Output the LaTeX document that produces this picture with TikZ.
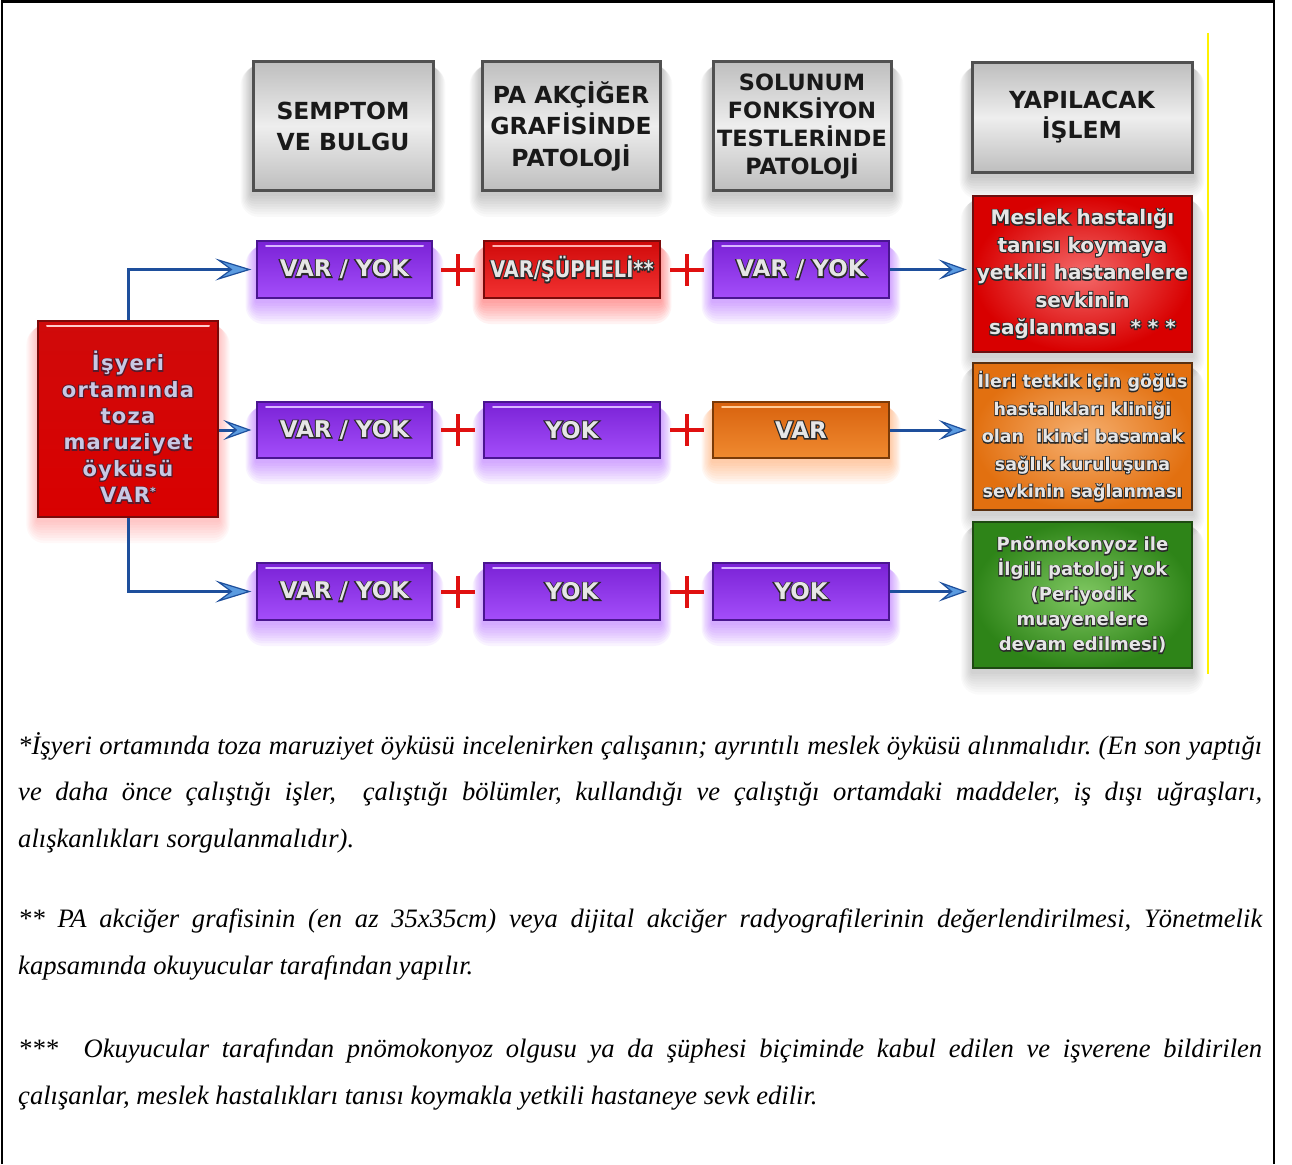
\documentclass[tikz,border=0pt]{standalone}
\usepackage{fontspec}
\usepackage{graphicx}
\usetikzlibrary{arrows.meta,calc}
\setmainfont{Liberation Serif}
\newfontfamily\bfnt{DejaVu Sans Bold}
\newfontfamily\obfnt{DejaVu Sans Bold}[FakeBold=10]
\newfontfamily\lfnt{DejaVu Sans Bold}[LetterSpace=6]
\newfontfamily\olfnt{DejaVu Sans Bold}[LetterSpace=6,FakeBold=10]
\newcommand\fs[2]{\fontsize{#1}{#2}\selectfont}
\definecolor{olc}{HTML}{2A2A2A}
\definecolor{olr}{HTML}{5A1A2A}
\newcommand\ol[1]{\rlap{\color{olc}\obfnt #1}#1}
\newcommand\oll[1]{\rlap{\color{olr}\olfnt #1}#1}
\definecolor{hdA}{HTML}{BEBEBE}
\definecolor{hdB}{HTML}{EEEEEE}
\definecolor{hdBorder}{HTML}{505050}
\definecolor{pA}{HTML}{7A22D6}
\definecolor{pB}{HTML}{A44EFA}
\definecolor{pBorder}{HTML}{4A1690}
\definecolor{pHi}{HTML}{D8B8FF}
\definecolor{pGlow}{HTML}{A040FF}
\definecolor{rA}{HTML}{D00A0A}
\definecolor{rB}{HTML}{F23232}
\definecolor{rBorder}{HTML}{7A0A0A}
\definecolor{rGlow}{HTML}{FF3030}
\definecolor{oA}{HTML}{D8620E}
\definecolor{oB}{HTML}{F08A30}
\definecolor{oBorder}{HTML}{7A3A08}
\definecolor{oGlow}{HTML}{FF9040}
\definecolor{r1in}{HTML}{F46A6A}
\definecolor{r1out}{HTML}{D80000}
\definecolor{r1bd}{HTML}{6B1010}
\definecolor{r2in}{HTML}{F6B070}
\definecolor{r2out}{HTML}{E27010}
\definecolor{r2bd}{HTML}{5A3010}
\definecolor{r3in}{HTML}{80C862}
\definecolor{r3out}{HTML}{2E8418}
\definecolor{r3bd}{HTML}{1E4A12}
\definecolor{arrblue}{HTML}{1E4F9C}
\definecolor{arrfill}{HTML}{5B9BE0}
\definecolor{plusred}{HTML}{E01010}
\definecolor{txtlight}{HTML}{E6E6E6}
\definecolor{ltxt}{HTML}{C8C8E4}
\pgfdeclarelayer{back}
\pgfdeclarelayer{bg}
\pgfsetlayers{back,bg,main}
\tikzset{
  hdbox/.style={draw=hdBorder, line width=3pt, top color=hdA, bottom color=hdA, middle color=hdB, inner sep=0pt, text=black!90, align=center},
  hilite/.style={path picture={\draw[#1, line width=2pt, line cap=round] ([xshift=9pt,yshift=-5pt]path picture bounding box.north west) -- ([xshift=-9pt,yshift=-5pt]path picture bounding box.north east);}},
  rowbox/.style n args={4}{draw=#3, line width=1.2pt, top color=#1, bottom color=#2, inner sep=0pt, font=\bfnt\fs{23}{28}, text=txtlight, hilite=#4},
  pbox/.style={rowbox={pA}{pB}{pBorder}{pHi}},
  rbox/.style={rowbox={rA}{rB}{rBorder}{red!30!white}},
  obox/.style={rowbox={oA}{oB}{oBorder}{orange!40!white}},
  lbox/.style={draw=rBorder, line width=1.5pt, top color=rA, bottom color=red!85!black, inner sep=0pt},
  ltext/.style={font=\lfnt\fs{21}{26.4}, text=ltxt, align=center, inner sep=0pt},
  resbox/.style n args={3}{draw=#3, line width=2.5pt, shading=radial, inner color=#1, outer color=#2, inner sep=0pt, text=txtlight, align=center},
  arr/.style={draw=arrblue, line width=3pt, shorten >=5pt},
  bigtip/.style={-{Stealth[length=36pt,width=22pt,inset=15pt,fill=arrfill,line width=1.2pt]}},
  smalltip/.style={-{Stealth[length=28pt,width=20pt,inset=12pt,fill=arrfill,line width=1.2pt]}},
  fnote/.style={inner sep=0pt, align=left, font=\itshape\fs{26.6}{46.7}},
  plus/.pic={\draw[plusred, line width=4.5pt] (-17,0) -- (17,0) (0,-16) -- (0,16);}
}
\newcommand\bx[7]{%
  \pgfmathsetmacro\bw{#4-#2}\pgfmathsetmacro\bh{#5-#3}%
  \pgfmathsetmacro\bcx{(#2+#4)/2}\pgfmathsetmacro\bcy{(#3+#5)/2}%
  \node[#6, minimum width=\bw pt, minimum height=\bh pt] (#1) at (\bcx,\bcy) {#7};}
\newcommand\glow[3]{\begin{pgfonlayer}{bg}\foreach \k in {2,4,...,18}{\fill[#2,opacity=#3,rounded corners=\k pt] ($(#1.north west)+(-\k*0.6,6)$) rectangle ($(#1.south east)+(\k*0.6,\k*1.3+2)$);}\end{pgfonlayer}}
\frenchspacing
\begin{document}
\begin{tikzpicture}[x=1pt,y=-1pt]
\useasboundingbox (0,0) rectangle (1292,1164);
\begin{pgfonlayer}{back}
\fill[white] (0,0) rectangle (1292,1164);
\end{pgfonlayer}
% frame
\draw[line width=2.5pt] (2,1164) -- (2,1.5) -- (1274,1.5) -- (1274,1164);
\draw[yellow, line width=2pt] (1208,33) -- (1208,674);
% headers
\bx{h1}{253}{62}{433}{190}{hdbox, font=\bfnt\fs{23.5}{31}}{SEMPTOM\\VE BULGU}
\bx{h2}{482}{62}{660}{190}{hdbox, font=\bfnt\fs{23.5}{31.5}}{PA AKÇİĞER\\GRAFİSİNDE\\PATOLOJİ}
\bx{h3}{713}{62}{891}{190}{hdbox, font=\bfnt\fs{22.4}{28}}{SOLUNUM\\FONKSİYON\\TESTLERİNDE\\PATOLOJİ}
\bx{h4}{972}{63}{1192}{172}{hdbox, font=\bfnt\fs{23.5}{30}}{YAPILACAK\\İŞLEM}
% left box
\bx{lb}{38}{321}{218}{517}{lbox, hilite=red!20!white}{}
\node[ltext] (lbt) at (128,427) {\oll{İşyeri}\\\oll{ortamında}\\\oll{toza}\\\oll{maruziyet}\\\oll{öyküsü}\\\oll{VAR\raisebox{7pt}{\fs{11}{11}*}}};
% row boxes
\bx{a1}{257}{241}{432}{298}{pbox}{\ol{VAR / YOK}}
\bx{b1}{484}{241}{660}{298}{rbox}{\scalebox{.84}[1]{\ol{VAR/ŞÜPHELİ**}}}
\bx{c1}{713}{241}{889}{298}{pbox}{\ol{VAR / YOK}}
\bx{a2}{257}{402}{432}{458}{pbox}{\ol{VAR / YOK}}
\bx{b2}{484}{402}{660}{458}{pbox}{\ol{YOK}}
\bx{c2}{713}{402}{889}{458}{obox}{\ol{VAR}}
\bx{a3}{257}{563}{432}{620}{pbox}{\ol{VAR / YOK}}
\bx{b3}{484}{563}{660}{620}{pbox}{\ol{YOK}}
\bx{c3}{713}{563}{889}{620}{pbox}{\ol{YOK}}
% result boxes
\bx{o1}{973}{196}{1192}{352}{resbox={r1in}{r1out}{r1bd}, font=\bfnt\fs{20}{27.5}}{\ol{Meslek hastalığı}\\\ol{tanısı koymaya}\\\ol{yetkili hastanelere}\\\ol{sevkinin}\\\ol{sağlanması \ * * *}}
\bx{o2}{973}{363}{1192}{510}{resbox={r2in}{r2out}{r2bd}, font=\bfnt\fs{17.5}{27.5}}{\ol{İleri tetkik için göğüs}\\\ol{hastalıkları kliniği}\\\ol{olan \ ikinci basamak}\\\ol{sağlık kuruluşuna}\\\ol{sevkinin sağlanması}}
\bx{o3}{973}{522}{1192}{668}{resbox={r3in}{r3out}{r3bd}, font=\bfnt\fs{18}{25}}{\ol{Pnömokonyoz ile}\\\ol{İlgili patoloji yok}\\\ol{(Periyodik}\\\ol{muayenelere}\\\ol{devam edilmesi)}}
% glows
\glow{h1}{black}{.025}\glow{h2}{black}{.025}\glow{h3}{black}{.025}\glow{h4}{black}{.025}
\glow{a1}{pGlow}{.06}\glow{c1}{pGlow}{.06}\glow{a2}{pGlow}{.06}\glow{b2}{pGlow}{.06}
\glow{a3}{pGlow}{.06}\glow{b3}{pGlow}{.06}\glow{c3}{pGlow}{.06}
\glow{b1}{rGlow}{.06}\glow{c2}{oGlow}{.06}\glow{lb}{rGlow}{.03}
\glow{o1}{black}{.02}\glow{o2}{black}{.02}\glow{o3}{black}{.02}
% plus signs
\pic at (458,270) {plus}; \pic at (687,270) {plus};
\pic at (458,430) {plus}; \pic at (687,430) {plus};
\pic at (458,592) {plus}; \pic at (687,592) {plus};
% connectors
\draw[arr, bigtip] (lb.north) |- (a1.west);
\draw[arr, smalltip] (lb.east |- a2.west) -- (a2.west);
\draw[arr, bigtip] (lb.south) |- (a3.west);
\draw[arr, smalltip] (c1.east) -- (c1.east -| o1.west);
\draw[arr, smalltip] (c2.east) -- (c2.east -| o2.west);
\draw[arr, smalltip] (c3.east) -- (c3.east -| o3.west);
% footnotes
\node[fnote, anchor=north west] (fn1) at (18,732) {\hbox to 1244pt{*İşyeri ortamında toza maruziyet öyküsü incelenirken çalışanın; ayrıntılı meslek öyküsü alınmalıdır. (En son yaptığı}\\\hbox to 1244pt{ve daha önce çalıştığı işler,\ \ çalıştığı bölümler, kullandığı ve çalıştığı ortamdaki maddeler, iş dışı uğraşları,}\\alışkanlıkları sorgulanmalıdır).};
\node[fnote, anchor=north west] (fn2) at (18,909) {\hbox to 1244pt{** PA akciğer grafisinin (en az 35x35cm) veya dijital akciğer radyografilerinin değerlendirilmesi, Yönetmelik}\\kapsamında okuyucular tarafından yapılır.};
\node[fnote, anchor=north west] (fn3) at (18,1039) {\hbox to 1244pt{***\ \ Okuyucular tarafından pnömokonyoz olgusu ya da şüphesi biçiminde kabul edilen ve işverene bildirilen}\\çalışanlar, meslek hastalıkları tanısı koymakla yetkili hastaneye sevk edilir.};
\end{tikzpicture}
\end{document}
